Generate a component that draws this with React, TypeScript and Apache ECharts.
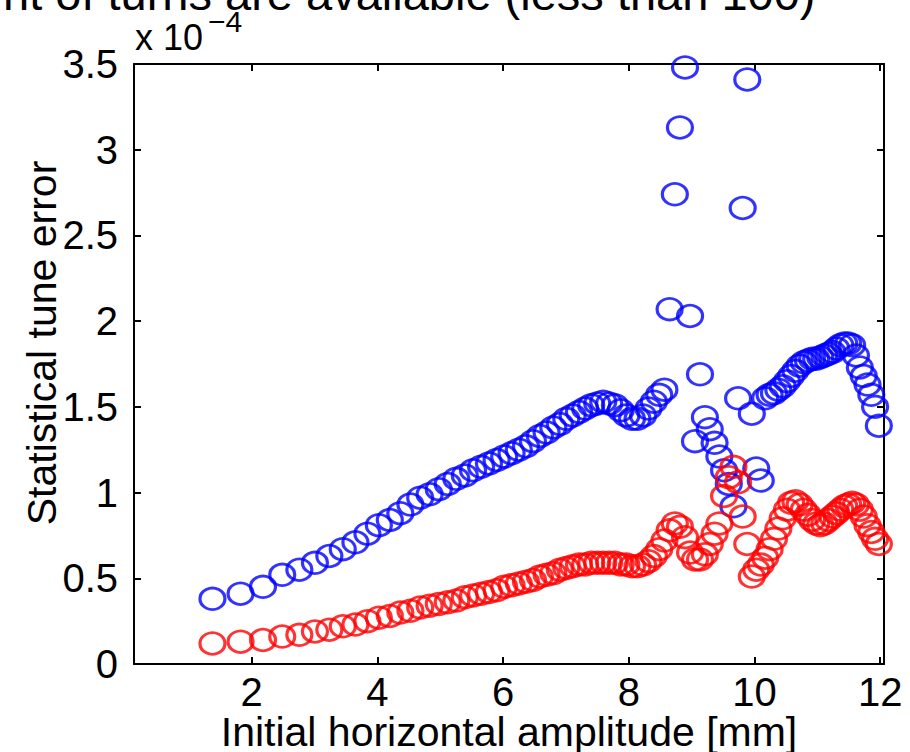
import React, { useEffect, useRef } from "react";
import * as echarts from "echarts";

// Initial horizontal amplitude [mm]
const xValues: number[] = [
  1.378, 1.825, 2.182, 2.488, 2.76, 3.008, 3.237, 3.451, 3.652, 3.843,
  4.025, 4.199, 4.366, 4.527, 4.682, 4.832, 4.978, 5.12, 5.257, 5.392,
  5.523, 5.651, 5.776, 5.898, 6.018, 6.136, 6.251, 6.365, 6.476, 6.586,
  6.693, 6.799, 6.904, 7.006, 7.108, 7.208, 7.306, 7.403, 7.499, 7.594,
  7.688, 7.78, 7.871, 7.962, 8.051, 8.139, 8.227, 8.313, 8.399, 8.484,
  8.567, 8.65, 8.733, 8.814, 8.895, 8.975, 9.054, 9.133, 9.211, 9.288,
  9.365, 9.441, 9.516, 9.591, 9.665, 9.739, 9.812, 9.885, 9.957, 10.028,
  10.1, 10.17, 10.24, 10.31, 10.379, 10.448, 10.516, 10.583, 10.651, 10.718,
  10.784, 10.85, 10.916, 10.981, 11.046, 11.111, 11.175, 11.239, 11.302, 11.365,
  11.428, 11.49, 11.553, 11.614, 11.676, 11.737, 11.798, 11.858, 11.918, 11.978,
];

// Statistical tune error, blue series (x 10^-4)
const blueValues: number[] = [
  0.38, 0.41, 0.45, 0.52, 0.55, 0.59, 0.63, 0.67, 0.71, 0.76,
  0.81, 0.84, 0.88, 0.93, 0.97, 0.99, 1.02, 1.05, 1.08, 1.1,
  1.13, 1.15, 1.17, 1.19, 1.21, 1.23, 1.25, 1.27, 1.3, 1.33,
  1.35, 1.38, 1.4, 1.43, 1.45, 1.47, 1.49, 1.51, 1.52, 1.53,
  1.52, 1.51, 1.48, 1.45, 1.43, 1.43, 1.45, 1.49, 1.53, 1.57,
  1.6, 2.07, 2.74, 3.13, 3.48, 2.03, 1.3, 1.69, 1.44, 1.37,
  1.29, 1.21, 1.13, 1.05, 0.92, 1.55, 2.66, 3.41, 1.46, 1.14,
  1.07, 1.55, 1.57, 1.58, 1.6, 1.62, 1.65, 1.68, 1.71, 1.74,
  1.76, 1.77, 1.78, 1.78, 1.79, 1.8, 1.81, 1.82, 1.84, 1.86,
  1.87, 1.87, 1.86, 1.8, 1.73, 1.68, 1.63, 1.57, 1.5, 1.39,
];

// Statistical tune error, red series (x 10^-4)
const redValues: number[] = [
  0.12, 0.13, 0.14, 0.16, 0.17, 0.19, 0.2, 0.22, 0.23, 0.25,
  0.27, 0.28, 0.3, 0.31, 0.33, 0.34, 0.35, 0.36, 0.37, 0.39,
  0.4, 0.41, 0.42, 0.43, 0.45, 0.46, 0.47, 0.48, 0.49, 0.51,
  0.52, 0.53, 0.55, 0.56, 0.57, 0.58, 0.58, 0.59, 0.59, 0.59,
  0.59, 0.59, 0.58, 0.58, 0.57, 0.57, 0.58, 0.6, 0.63, 0.67,
  0.72, 0.78, 0.82, 0.8, 0.74, 0.65, 0.61, 0.61, 0.64, 0.7,
  0.76, 0.82, 0.98, 1.09, 1.15, 1.06, 0.86, 0.7, 0.51, 0.55,
  0.58, 0.62, 0.67, 0.73, 0.79, 0.85, 0.9, 0.94, 0.95, 0.93,
  0.9, 0.87, 0.84, 0.82, 0.81, 0.82, 0.84, 0.86, 0.88, 0.9,
  0.92, 0.93, 0.94, 0.93, 0.9, 0.86, 0.81, 0.77, 0.73, 0.7,
];

const xTicks: number[] = [2, 4, 6, 8, 10, 12];

const FONT = "'Liberation Sans', Arial, Helvetica, sans-serif";

export default function App() {
  const ref = useRef<HTMLDivElement>(null);
  useEffect(() => {
    if (!ref.current) return;
    const chart = echarts.init(ref.current, null, { renderer: "svg" });
    const blueData = xValues.map((x, i) => [x, blueValues[i]]);
    const redData = xValues.map((x, i) => [x, redValues[i]]);
    const lineStyle = { color: "#000", width: 2 };
    const xBase = {
      type: "value",
      min: 0.13,
      max: 12.06,
      splitLine: { show: false },
      axisLine: { show: true, onZero: false, lineStyle },
      axisTick: { show: true, inside: true, length: 7, customValues: xTicks, lineStyle },
    };
    const yBase = {
      type: "value",
      min: 0,
      max: 3.5,
      interval: 0.5,
      splitLine: { show: false },
      axisLine: { show: true, onZero: false, lineStyle },
      axisTick: { show: true, inside: true, length: 7, lineStyle },
    };
    const circle = (color: string) => ({
      type: "scatter",
      symbol: "circle",
      symbolSize: [25, 21.5],
      silent: true,
      itemStyle: { color: "rgba(0,0,0,0)", borderColor: color, borderWidth: 3 },
      emphasis: { disabled: true },
    });
    chart.setOption({
      animation: false,
      backgroundColor: "#fff",
      grid: { left: 134, right: 26, top: 64, bottom: 88, containLabel: false },
      xAxis: [
        {
          ...xBase,
          position: "bottom",
          axisLabel: { customValues: xTicks, fontSize: 40, lineHeight: 30, color: "#000", margin: 13, fontFamily: FONT },
        },
        { ...xBase, position: "top", axisLabel: { show: false } },
      ],
      yAxis: [
        {
          ...yBase,
          position: "left",
          axisLabel: { fontSize: 40, color: "#000", margin: 16, fontFamily: FONT },
        },
        { ...yBase, position: "right", axisLabel: { show: false } },
      ],
      series: [
        { ...circle("#0000ff"), name: "blue", data: blueData },
        { ...circle("#ff0000"), name: "red", data: redData },
      ],
      graphic: [
        {
          type: "text",
          x: 3,
          y: 17,
          style: { text: "nt of turns are available (less than 100)", font: `47px ${FONT}`, fill: "#000", verticalAlign: "bottom", align: "left" },
        },
        {
          type: "text",
          x: 135,
          y: 55,
          style: { text: "x 10", font: `36px ${FONT}`, fill: "#000", verticalAlign: "bottom", align: "left" },
        },
        {
          type: "text",
          x: 208,
          y: 36,
          style: { text: "−4", font: `30px ${FONT}`, fill: "#000", verticalAlign: "bottom", align: "left" },
        },
        {
          type: "text",
          x: 509,
          y: 732,
          style: { text: "Initial horizontal amplitude [mm]", font: `41px ${FONT}`, lineHeight: 38, fill: "#000", verticalAlign: "middle", align: "center" },
        },
        {
          type: "text",
          x: 42,
          y: 343,
          rotation: Math.PI / 2,
          style: { text: "Statistical tune error", font: `41px ${FONT}`, fill: "#000", verticalAlign: "middle", align: "center" },
        },
      ],
    });
    return () => chart.dispose();
  }, []);
  return <div ref={ref} style={{ position: "fixed", left: 0, top: 0, width: 910, height: 752 }} />;
}
